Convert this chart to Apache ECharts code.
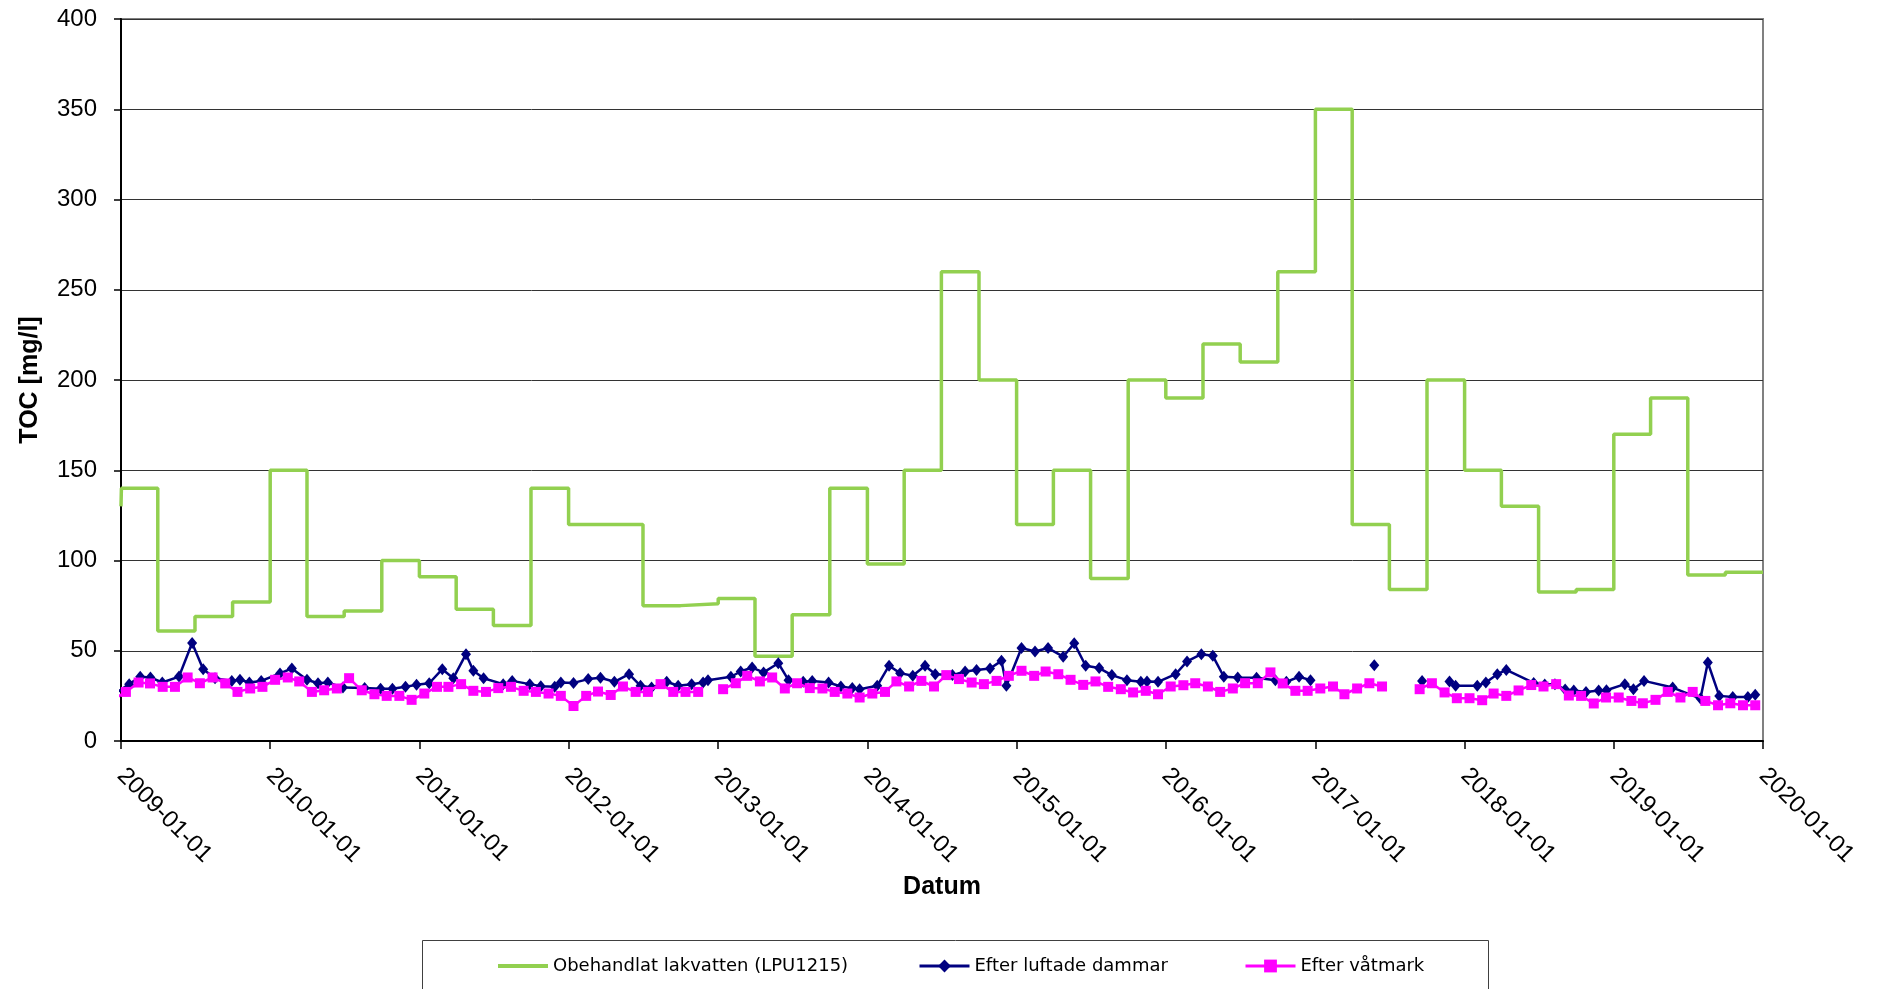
<!DOCTYPE html>
<html><head><meta charset="utf-8">
<script src="https://cdn.jsdelivr.net/npm/echarts@6/dist/echarts.min.js"></script>
<style>html,body{margin:0;padding:0;background:#fff}#c{width:1879px;height:989px}</style>
</head><body><div id="c"></div>
<script>
// ---- series names ----
const nameGreen = 'Obehandlat lakvatten (LPU1215)';
const nameBlue = 'Efter luftade dammar';
const namePink = 'Efter våtmark';

// ---- axis ----
const xMin = '2009-01-01';
const xMax = '2020-01-01';
const yMin = 0, yMax = 400, yInterval = 50;

// ---- green: quarterly values from 2009 Q1 to 2019 Q4 ----
const greenStartDate = '2009-01-01';
const greenStartValue = 130;
const greenFirstStepDate = '2009-01-02';
const greenQuarterValues = [
  140, 61, 69, 77,
  150, 69, 72, 100,
  91, 73, 64, 140,
  120, 120, 75, 76,
  79, 47, 70, 140,
  98, 150, 260, 200,
  120, 150, 90, 200,
  190, 220, 210, 260,
  350, 120, 84, 200,
  150, 130, 82.5, 84,
  170, 190, 92, 93.5
];

// ---- blue: irregular sampling ----
const blueDates = [
  '2008-12-10',
  '2009-01-21','2009-02-17','2009-03-14','2009-04-12','2009-05-23','2009-06-24','2009-07-21','2009-08-19','2009-09-29','2009-10-19','2009-11-11','2009-12-10',
  '2010-01-25','2010-02-23','2010-04-01','2010-04-28','2010-05-22','2010-06-28','2010-08-20','2010-09-28','2010-10-27','2010-11-28','2010-12-25',
  '2011-01-25','2011-02-26','2011-03-25','2011-04-25','2011-05-13','2011-06-07','2011-07-25','2011-08-16','2011-09-28','2011-10-25','2011-11-28','2011-12-13',
  '2012-01-13','2012-02-18','2012-03-19','2012-04-22','2012-05-28','2012-06-25','2012-07-22','2012-08-28','2012-09-25','2012-10-28','2012-11-25','2012-12-07',
  '2013-02-01','2013-02-25','2013-03-25','2013-04-22','2013-05-28','2013-06-22','2013-07-28','2013-08-19','2013-09-28','2013-10-28','2013-11-25','2013-12-13',
  '2014-01-25','2014-02-23','2014-03-22','2014-04-22','2014-05-22','2014-06-16','2014-07-28','2014-08-28','2014-09-25','2014-10-28','2014-11-25','2014-12-07',
  '2015-01-13','2015-02-15','2015-03-19','2015-04-25','2015-05-22','2015-06-19','2015-07-22','2015-08-22','2015-09-28','2015-11-01','2015-11-16','2015-12-13',
  '2016-01-25','2016-02-22','2016-03-28','2016-04-25','2016-05-22','2016-06-25','2016-08-10','2016-09-25','2016-10-22','2016-11-22','2016-12-20',
  '2017-03-01','2017-05-25','2017-07-01','2017-09-19','2017-10-10','2017-11-25','2017-12-10',
  '2018-02-01','2018-02-22','2018-03-22','2018-04-13','2018-06-19','2018-07-16','2018-08-10','2018-09-04','2018-09-25','2018-10-25','2018-11-25','2018-12-14',
  '2019-01-28','2019-02-18','2019-03-16','2019-05-25','2019-08-01','2019-08-19','2019-09-16','2019-10-19','2019-11-25','2019-12-13'
];
const blueValues = [
  25,
  31.5,35.6,35.2,32.4,35.7,54.3,39.8,34.8,33.3,34,32.4,33.3,
  37.4,40.2,33.9,32,32.4,29.6,29.3,29,29,30,31.1,
  32,39.8,34.8,48.1,38.9,34.8,31.5,33.3,31.5,30.4,30,32.4,
  32.2,34.3,35,32.8,37,30.6,29.6,32.8,30.6,31.5,32.4,33.7,
  35.6,38.5,40.7,38,43.1,33.7,32.8,33.3,32.4,30.2,29.3,28.7,
  30.6,41.7,37.6,36.1,41.7,37,36.5,38.5,39.3,40.2,44.4,30.6,
  51.5,49.6,51.5,46.7,54.1,41.7,40.4,36.5,33.7,32.8,33,32.8,
  37,44.1,48.1,47.2,35.6,35.2,35,33.7,32.8,35.6,33.7,
  null,42,null,33.3,null,33,30.6,
  30.6,32.4,37,39.4,32.2,31.3,31.5,28.5,28,27.2,28,28.1,
  31.5,28.7,33.3,29.6,23.5,43.5,25,24.4,24.4,25.6
];

// ---- pink: monthly (day 13) from 2009-01 to 2019-12 ----
const pinkPreDate = '2008-12-13';
const pinkPreValue = 23;
const pinkStartYear = 2009;
const pinkDay = 13;
const pinkValues = [
  27.2,32.4,31.9,30,30,35.2,32,35.2,31.9,27.2,29.1,30,
  33.9,35.2,33,27.2,28.1,29.1,34.8,28.1,25.9,25,25,22.8,
  26.3,30,30,31.5,27.8,27.2,29.3,30,27.8,27.2,26.3,25,
  19.4,25,27.4,25.5,30.2,27.2,27.2,31.5,27.2,27.2,27.2,null,
  28.7,32,36.1,33,35.2,29.1,32,29.3,29.1,27.2,26.3,24.1,
  26.3,27.2,33,30.2,33.3,30.2,36.5,34.3,32.4,31.5,33.3,36.1,
  38.9,36.1,38.5,37,33.9,31.1,33,30,28.7,26.9,27.8,25.9,
  30.2,30.9,32,30.2,27.2,29.1,32,32,38,31.9,27.8,27.8,
  29.1,30.2,25.9,29.1,32,30.2,null,null,28.7,32,26.9,23.7,
  23.7,22.6,26.3,25,28,31,30.2,31.5,25.2,25,20.8,24.1,
  24.1,22.2,20.9,22.8,27.2,24.1,27.2,22.2,19.8,20.9,19.8,19.8
];

// ---- build data ----
const pad = n => (n < 10 ? '0' : '') + n;
const greenData = [[greenStartDate, greenStartValue], [greenFirstStepDate, greenQuarterValues[0]]];
for (let i = 1; i < greenQuarterValues.length; i++) {
  const y = 2009 + Math.floor(i / 4), m = (i % 4) * 3 + 1;
  greenData.push([y + '-' + pad(m) + '-01', greenQuarterValues[i]]);
}
greenData.push([xMax, greenQuarterValues[greenQuarterValues.length - 1]]);

const blueData = blueDates.map((d, i) => [d, blueValues[i] == null ? '-' : blueValues[i]]);

const pinkData = [[pinkPreDate, pinkPreValue]];
pinkValues.forEach((v, k) => {
  const y = pinkStartYear + Math.floor(k / 12), m = (k % 12) + 1;
  pinkData.push([y + '-' + pad(m) + '-' + pad(pinkDay), v == null ? '-' : v]);
});

const FONT = 'Liberation Sans, Arial, sans-serif';
const LFONT = 'DejaVu Sans, sans-serif';
const chart = echarts.init(document.getElementById('c'), null, {renderer: 'canvas'});
const legendBase = {
  orient: 'horizontal', top: 957, padding: 0, itemWidth: 50, itemHeight: 16, itemGap: 0,
  textStyle: {fontFamily: LFONT, fontSize: 18, color: '#000'}, selectedMode: false
};
chart.setOption({
  backgroundColor: '#fff',
  animation: false,
  grid: {left: 121, right: 116, top: 19, bottom: 248, show: true, borderColor: '#808080', borderWidth: 2, backgroundColor: 'transparent', outerBoundsMode: 'none', containLabel: false},
  graphic: [{type: 'rect', left: 422, top: 940, z: 1, shape: {width: 1066, height: 80}, style: {fill: '#fff', stroke: '#404040', lineWidth: 1}}],
  legend: [
    Object.assign({}, legendBase, {left: 496, data: [nameGreen], itemStyle: {opacity: 0}, lineStyle: {width: 4, color: '#92D050'}}),
    Object.assign({}, legendBase, {left: 918, data: [nameBlue], lineStyle: {width: 3, color: '#000080'}}),
    Object.assign({}, legendBase, {left: 1244, data: [namePink], lineStyle: {width: 3, color: '#FF00FF'}})
  ],
  xAxis: {
    type: 'time', min: xMin, max: xMax,
    splitNumber: 11,
    minInterval: 365 * 24 * 3600 * 1000, maxInterval: 366 * 24 * 3600 * 1000,
    name: 'Datum', nameLocation: 'middle', nameGap: 133,
    nameTextStyle: {fontFamily: FONT, fontSize: 25, fontWeight: 'bold', color: '#000'},
    axisLine: {show: true, onZero: false, lineStyle: {color: '#000', width: 2}},
    axisTick: {show: true, length: 8, lineStyle: {color: '#000', width: 1.5}},
    splitLine: {show: false},
    axisLabel: {
      rotate: -45, margin: 31, fontFamily: FONT, fontSize: 24, color: '#000',
      showMinLabel: true, showMaxLabel: true, hideOverlap: false,
      formatter: function (v) { const d = new Date(v); return d.getFullYear() + '-' + pad(d.getMonth() + 1) + '-' + pad(d.getDate()); }
    }
  },
  yAxis: {
    type: 'value', min: yMin, max: yMax, interval: yInterval,
    name: 'TOC [mg/l]', nameLocation: 'middle', nameGap: 78,
    nameTextStyle: {fontFamily: FONT, fontSize: 25, fontWeight: 'bold', color: '#000'},
    axisLine: {show: true, lineStyle: {color: '#000', width: 2}},
    axisTick: {show: true, length: 7, lineStyle: {color: '#000', width: 1.5}},
    splitLine: {show: true, lineStyle: {color: '#333', width: 1}},
    axisLabel: {margin: 24, fontFamily: FONT, fontSize: 24, color: '#000'}
  },
  series: [
    {name: nameGreen, type: 'line', step: 'end', data: greenData, symbol: 'none', showSymbol: false,
     itemStyle: {color: '#92D050'}, lineStyle: {color: '#92D050', width: 3.5}, z: 2},
    {name: nameBlue, type: 'line', data: blueData, symbol: 'diamond', symbolSize: [10, 12], showAllSymbol: true,
     connectNulls: false, itemStyle: {color: '#000080'}, lineStyle: {color: '#000080', width: 2.5}, z: 3},
    {name: namePink, type: 'line', data: pinkData, symbol: 'rect', symbolSize: 10, showAllSymbol: true,
     connectNulls: false, itemStyle: {color: '#FF00FF'}, lineStyle: {color: '#FF00FF', width: 2.5}, z: 4}
  ]
});
</script></body></html>
